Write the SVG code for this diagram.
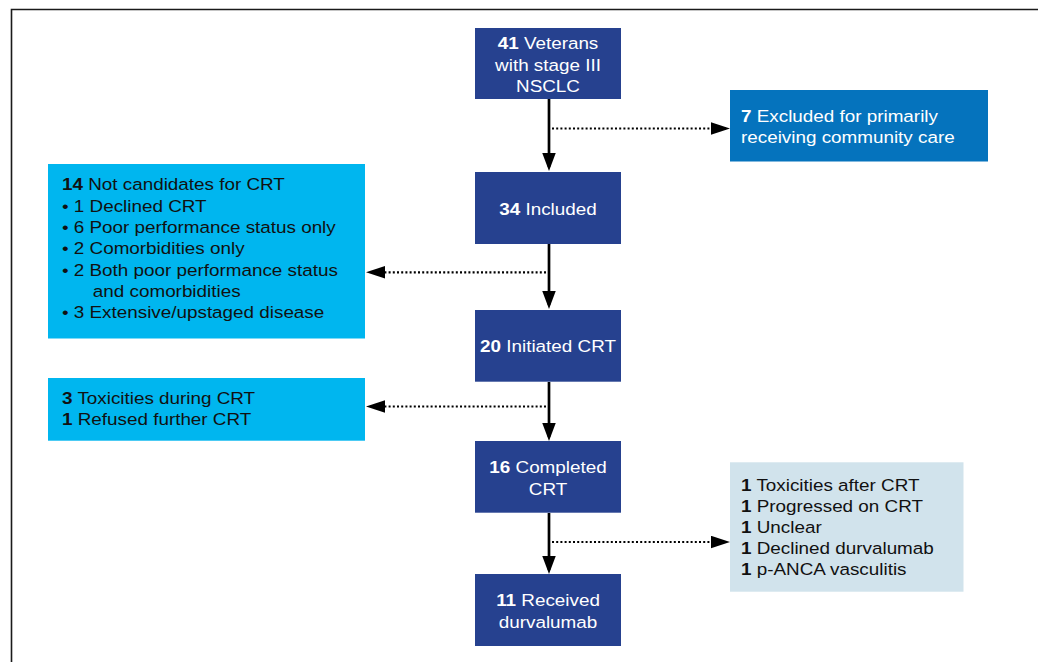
<svg xmlns="http://www.w3.org/2000/svg" width="1038" height="662" viewBox="0 0 1038 662">
<style>
.t{font-family:"Liberation Sans",Arial,Helvetica,sans-serif;font-size:17px}
.w{fill:#ffffff}
.k{fill:#111111}
.b{font-weight:bold}
.dark{fill:#26418f}
.mid{fill:#0573bd}
.cyan{fill:#00b6ef}
.light{fill:#d1e3ec}
.solid{stroke:#000;stroke-width:2.7;fill:none}
.dot{stroke:#000;stroke-width:2.2;fill:none;stroke-dasharray:2 2.2}
</style>
<defs>
<marker id="ah" markerUnits="userSpaceOnUse" markerWidth="20" markerHeight="14" refX="14" refY="6.75" orient="auto">
<path d="M0,0 L18,6.75 L0,13.5 z" fill="#000"/>
</marker>
<marker id="ahd" markerUnits="userSpaceOnUse" markerWidth="20" markerHeight="14" refX="15" refY="6.25" orient="auto">
<path d="M0,0 L19,6.25 L0,12.5 z" fill="#000"/>
</marker>
</defs>
<rect width="1038" height="662" fill="#ffffff"/>
<path d="M11.5,662 V9.5 H1038" stroke="#1a1a1a" stroke-width="1.6" fill="none"/>

<g id="connectors">
<line class="solid" x1="549" y1="99" x2="549" y2="167" marker-end="url(#ah)"/>
<line class="solid" x1="549" y1="244" x2="549" y2="305" marker-end="url(#ah)"/>
<line class="solid" x1="549" y1="382" x2="549" y2="437" marker-end="url(#ah)"/>
<line class="solid" x1="549" y1="513" x2="549" y2="570" marker-end="url(#ah)"/>
<line class="dot" x1="552" y1="128.5" x2="726" y2="128.5" marker-end="url(#ahd)"/>
<line class="dot" x1="546" y1="272.3" x2="370" y2="272.3" marker-end="url(#ahd)"/>
<line class="dot" x1="546" y1="406.5" x2="370" y2="406.5" marker-end="url(#ahd)"/>
<line class="dot" x1="552" y1="542" x2="726" y2="542" marker-end="url(#ahd)"/>
</g>

<g id="n41">
<rect class="dark" x="475" y="28" width="146" height="71"/>
<text class="t w" text-anchor="middle" transform="translate(548,0) scale(1.11,1)"><tspan x="0" y="49.5"><tspan class="b">41</tspan> Veterans</tspan><tspan x="0" y="70.8">with stage III</tspan><tspan x="0" y="92">NSCLC</tspan></text>
</g>

<g id="excluded">
<rect class="mid" x="730" y="90" width="258" height="71.5"/>
<text class="t w" transform="translate(741,0) scale(1.11,1)"><tspan x="0" y="121.7"><tspan class="b">7</tspan> Excluded for primarily</tspan><tspan x="0" y="143.3">receiving community care</tspan></text>
</g>

<g id="n34">
<rect class="dark" x="475" y="172" width="146" height="72"/>
<text class="t w" text-anchor="middle" transform="translate(548,214.5) scale(1.11,1)"><tspan class="b">34</tspan> Included</text>
</g>

<g id="notcandidates">
<rect class="cyan" x="48" y="164" width="317" height="174.5"/>
<text class="t k" transform="translate(62,0) scale(1.11,1)"><tspan x="0" y="190.5"><tspan class="b">14</tspan> Not candidates for CRT</tspan><tspan x="0" y="211.8">• 1 Declined CRT</tspan><tspan x="0" y="233.1">• 6 Poor performance status only</tspan><tspan x="0" y="254.4">• 2 Comorbidities only</tspan><tspan x="0" y="275.7">• 2 Both poor performance status</tspan><tspan x="27.8" y="297">and comorbidities</tspan><tspan x="0" y="318.3">• 3 Extensive/upstaged disease</tspan></text>
</g>

<g id="n20">
<rect class="dark" x="475" y="310" width="146" height="71.7"/>
<text class="t w" text-anchor="middle" transform="translate(548,352.3) scale(1.11,1)"><tspan class="b">20</tspan> Initiated CRT</text>
</g>

<g id="toxicities">
<rect class="cyan" x="48" y="378" width="317" height="62.7"/>
<text class="t k" transform="translate(62,0) scale(1.11,1)"><tspan x="0" y="404.3"><tspan class="b">3</tspan> Toxicities during CRT</tspan><tspan x="0" y="425.3"><tspan class="b">1</tspan> Refused further CRT</tspan></text>
</g>

<g id="n16">
<rect class="dark" x="475" y="441" width="146" height="71.7"/>
<text class="t w" text-anchor="middle" transform="translate(548,0) scale(1.11,1)"><tspan x="0" y="473.3"><tspan class="b">16</tspan> Completed</tspan><tspan x="0" y="495">CRT</tspan></text>
</g>

<g id="reasons">
<rect class="light" x="730" y="462.3" width="233.5" height="129.4"/>
<text class="t k" transform="translate(741,0) scale(1.11,1)"><tspan x="0" y="490.7"><tspan class="b">1</tspan> Toxicities after CRT</tspan><tspan x="0" y="511.8"><tspan class="b">1</tspan> Progressed on CRT</tspan><tspan x="0" y="532.9"><tspan class="b">1</tspan> Unclear</tspan><tspan x="0" y="554"><tspan class="b">1</tspan> Declined durvalumab</tspan><tspan x="0" y="575.2"><tspan class="b">1</tspan> p-ANCA vasculitis</tspan></text>
</g>

<g id="n11">
<rect class="dark" x="475" y="574" width="146" height="72"/>
<text class="t w" text-anchor="middle" transform="translate(548,0) scale(1.11,1)"><tspan x="0" y="605.7"><tspan class="b">11</tspan> Received</tspan><tspan x="0" y="627.7">durvalumab</tspan></text>
</g>
</svg>
